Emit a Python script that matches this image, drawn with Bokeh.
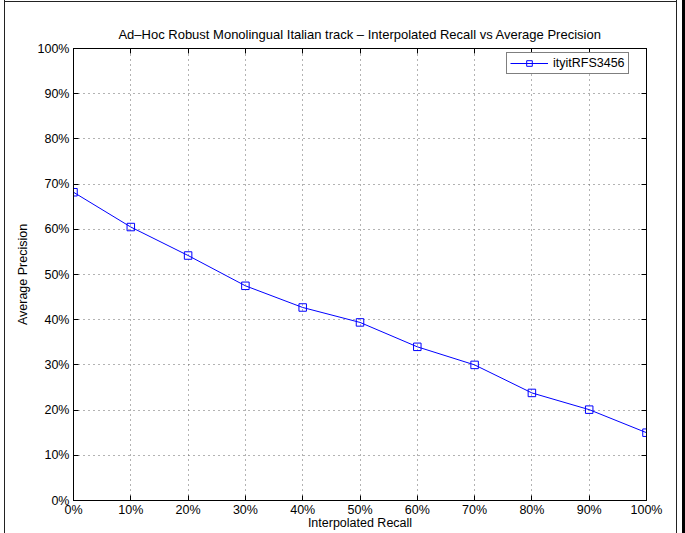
from bokeh.plotting import figure
from bokeh.models import (LinearAxis, PrintfTickFormatter, FixedTicker, Range1d,
                          Legend, LegendItem)
from bokeh.embed import file_html
from bokeh.resources import INLINE

recall = [0, 10, 20, 30, 40, 50, 60, 70, 80, 90, 100]
precision = [68.2, 60.5, 54.2, 47.5, 42.7, 39.4, 34.0, 30.0, 23.8, 20.1, 15.0]
series_name = "ityitRFS3456"
ticks = [0, 10, 20, 30, 40, 50, 60, 70, 80, 90, 100]
title_text = "Ad\u2013Hoc Robust Monolingual Italian track \u2013 Interpolated Recall vs Average Precision"

FONT = "Liberation Sans"

p = figure(width=685, height=533, output_backend="svg", toolbar_location=None,
           x_range=Range1d(0, 100), y_range=Range1d(0, 100),
           min_border_left=73, min_border_right=39, min_border_top=48, min_border_bottom=33)
p.border_fill_alpha = 0
p.styles = {
    "background-color": "white",
    "box-shadow": ("inset -3px 0 0 #000000, inset -8px 0 0 #ffffff, inset -9px 0 0 #222222, "
                   "inset 4px 0 0 #ffffff, inset 5px 0 0 #222222, "
                   "inset 0 1px 0 #ffffff, inset 0 2px 0 #222222"),
}

p.title.text = title_text
p.title.align = "center"
p.title.text_font = FONT
p.title.text_font_size = "13px"
p.title.text_font_style = "normal"
p.title.text_color = "#000000"
p.title.standoff = 14

p.outline_line_color = "black"
p.outline_line_width = 1

fmt = PrintfTickFormatter(format="%d%%")
for ax in [p.xaxis[0], p.yaxis[0]]:
    ax.ticker = FixedTicker(ticks=ticks)
    ax.formatter = fmt
    ax.major_tick_in = 5
    ax.major_tick_out = 0
    ax.minor_tick_in = 0
    ax.minor_tick_out = 0
    ax.axis_line_color = "black"
    ax.major_tick_line_color = "black"
    ax.major_label_text_font = FONT
    ax.major_label_text_font_size = "12.5px"
    ax.major_label_text_color = "#000000"
    ax.axis_label_text_font = FONT
    ax.axis_label_text_font_size = "12.5px"
    ax.axis_label_text_font_style = "normal"
    ax.axis_label_text_color = "#000000"

p.xaxis[0].axis_label = "Interpolated Recall"
p.yaxis[0].axis_label = "Average Precision"
p.xaxis[0].major_label_standoff = 2
p.xaxis[0].axis_label_standoff = -4
p.yaxis[0].major_label_standoff = 4
p.yaxis[0].axis_label_standoff = 5

for loc in ["right", "above"]:
    a = LinearAxis(ticker=FixedTicker(ticks=ticks), major_tick_in=5, major_tick_out=0,
                   minor_tick_in=0, minor_tick_out=0, major_label_text_font_size="0px",
                   major_label_standoff=0, axis_line_color="black",
                   major_tick_line_color="black", major_label_text_alpha=0)
    p.add_layout(a, loc)

for g in [p.xgrid[0], p.ygrid[0]]:
    g.ticker = FixedTicker(ticks=ticks)
    g.grid_line_color = "#666666"
    g.grid_line_dash = "1 4"
    g.grid_line_width = 1

r_line = p.line(recall, precision, line_color="#0000ff", line_width=1)
r_mark = p.scatter(recall, precision, marker="square", size=7.5, line_color="#0000ff",
                   fill_color=None, line_width=1)

legend = Legend(items=[LegendItem(label=series_name, renderers=[r_line, r_mark])],
                location=(433, 426))
legend.label_text_font = FONT
legend.label_text_font_size = "12.5px"
legend.label_text_color = "#000000"
legend.border_line_color = "black"
legend.border_line_width = 1
legend.glyph_width = 38
legend.glyph_height = 14
legend.label_height = 14
legend.margin = 0
legend.padding = 3
legend.label_standoff = 5
legend.spacing = 0
legend.background_fill_alpha = 1
p.add_layout(legend)

open("out.html", "w").write(file_html(p, INLINE))
